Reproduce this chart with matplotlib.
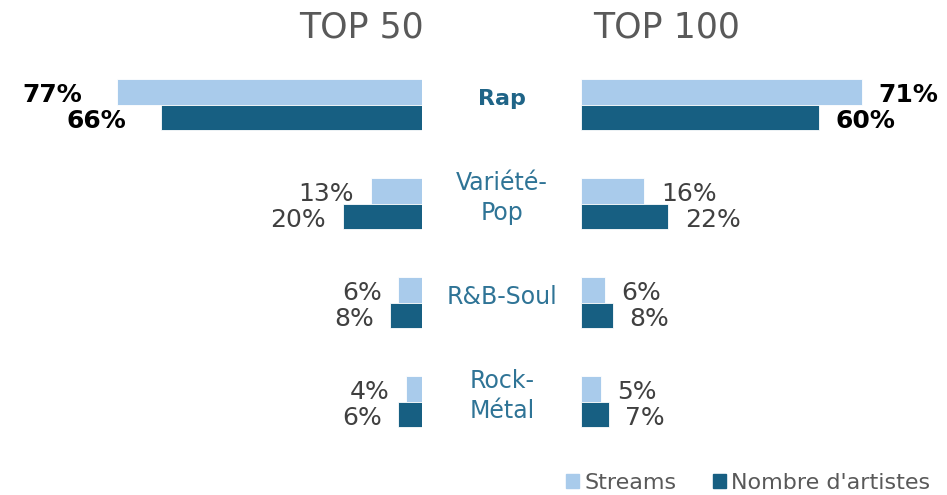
import matplotlib
matplotlib.use("Agg")
import matplotlib.pyplot as plt
from matplotlib.patches import Patch
from matplotlib.transforms import blended_transform_factory

genres = ["Rap", "Variété-\nPop", "R&B-Soul", "Rock-\nMétal"]
top50_streams = [77, 13, 6, 4]
top50_artists = [66, 20, 8, 6]
top100_streams = [71, 16, 6, 5]
top100_artists = [60, 22, 8, 7]
panel_titles = ["TOP 50", "TOP 100"]
legend_labels = ["Streams", "Nombre d'artistes"]

LIGHT = "#a9cbeb"
DARK = "#175f82"
GREY = "#404040"
CAT = "#2f7496"

W, H = 947, 495
fig = plt.figure(figsize=(W / 100, H / 100), dpi=100)
plt.rcParams["font.family"] = ["DejaVu Sans"]

px_per_pct = 3.96
ax_l = fig.add_axes([0, 0, 422 / W, 1])
ax_r = fig.add_axes([581 / W, 0, 366 / W, 1])
ax_l.set_xlim(422 / px_per_pct, 0)
ax_r.set_xlim(0, 366 / px_per_pct)

ypos = list(range(len(genres)))
h = 0.257
for ax in (ax_l, ax_r):
    ax.set_ylim(3.94, -1.06)
    ax.axis("off")


def draw(ax, streams, artists, side):
    s_y = [y - h / 2 for y in ypos]
    a_y = [y + h / 2 for y in ypos]
    ax.barh(s_y, streams, height=h, color=LIGHT, edgecolor="white", linewidth=0.6)
    ax.barh(a_y, artists, height=h, color=DARK, edgecolor="white", linewidth=0.6)
    for i, (s, a) in enumerate(zip(streams, artists)):
        bold = i == 0
        for val, yy in ((s, s_y[i]), (a, a_y[i])):
            off = 12
            if side == "left" and bold:
                off = 25
            ax.annotate(f"{val}%", (val, yy + 0.03),
                        xytext=(-off if side == "left" else off, 0),
                        textcoords="offset points",
                        ha="right" if side == "left" else "left", va="center",
                        fontsize=18, color="black" if bold else GREY,
                        fontweight="bold" if bold else "normal",
                        annotation_clip=False)


draw(ax_l, top50_streams, top50_artists, "left")
draw(ax_r, top100_streams, top100_artists, "right")

tr = blended_transform_factory(fig.transFigure, ax_r.transData)
for i, g in enumerate(genres):
    bold = i == 0
    ax_r.text(502 / W, ypos[i] - 0.06, g, transform=tr, ha="center", va="center",
              fontsize=16 if bold else 17, color="#1f6487" if bold else CAT,
              fontweight="bold" if bold else "normal", linespacing=1.35)

fig.text(361 / W, 1 - 27 / H, panel_titles[0], ha="center", va="center",
         fontsize=25, color="#595959")
fig.text(667 / W, 1 - 27 / H, panel_titles[1], ha="center", va="center",
         fontsize=25, color="#595959")

handles = [Patch(color=LIGHT), Patch(color=DARK)]
fig.legend(handles, legend_labels, loc="center right", bbox_to_anchor=(0.985, 1 - 483 / H),
           ncol=2, frameon=False, fontsize=16, labelcolor="#595959",
           handlelength=0.6, handleheight=0.6, handletextpad=0.25, columnspacing=1.6,
           borderpad=0.1, borderaxespad=0)

fig.savefig("out.png", dpi=100)
